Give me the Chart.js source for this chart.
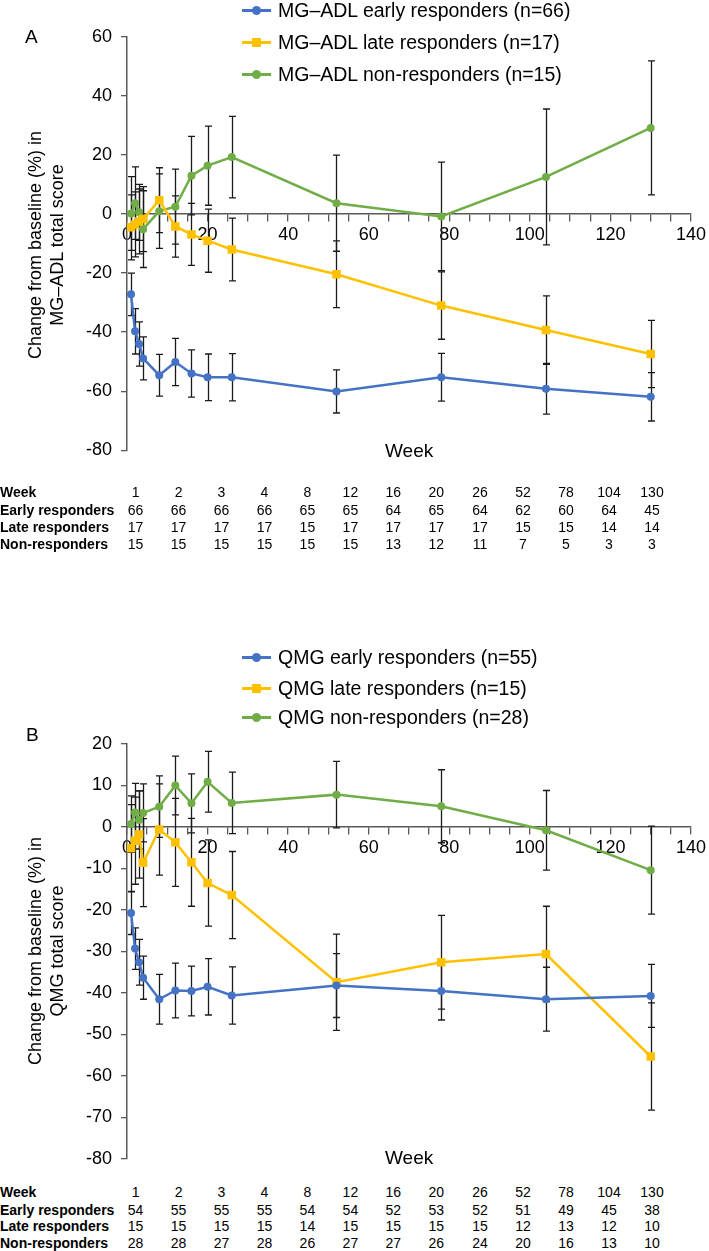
<!DOCTYPE html>
<html><head><meta charset="utf-8">
<script src="https://cdn.jsdelivr.net/npm/chart.js@4.4.1/dist/chart.umd.min.js"></script>
<style>
body{margin:0;width:709px;height:1251px;position:relative;background:#fff;overflow:hidden;font-family:"Liberation Sans",Arial,sans-serif;color:#000}
canvas{position:absolute;left:0}
.abs{position:absolute;white-space:nowrap}
.leg{position:absolute;left:242px;font-size:19.5px;line-height:22px;height:22px;width:440px}
.leg .ln{position:absolute;left:0;top:10px;width:29px;height:3px}
.leg .mk{position:absolute;left:10px;top:7px;width:9px;height:9px}
.leg .tx{position:absolute;left:36px;top:0}
.ytitle{position:absolute;width:320px;text-align:center;font-size:18px;line-height:22px;transform:rotate(-90deg);white-space:nowrap}
.cell{position:absolute;font-size:14px;line-height:16px;white-space:nowrap}
.rowlab{position:absolute;left:0;font-size:14px;line-height:16px;font-weight:bold;white-space:nowrap}
</style></head><body>
<canvas id="cA" width="709" height="470" style="top:0"></canvas>
<canvas id="cB" width="709" height="560" style="top:620px"></canvas>
<script>
// ---------- data ----------
const weeks = [1,2,3,4,8,12,16,20,26,52,78,104,130];

// Panel A: MG-ADL
const A_early = [-27.2,-39.7,-44.0,-48.9,-54.6,-50.1,-54.0,-55.3,-55.3,-60.1,-55.3,-59.2,-61.9];
const A_early_err = [7.2,7.7,7.5,7.3,7.1,8.0,8.0,7.9,8.0,7.3,8.1,8.6,8.2];
const A_late = [-4.5,-3.5,-2.5,-1.7,4.7,-4.2,-6.9,-9.0,-12.0,-20.4,-31.0,-39.3,-47.4];
const A_late_err = [11,11,11,11,11,10.4,10.5,10.7,10.6,11.3,11.4,11.6,11.4];
const A_non = [0.2,3.7,0.6,-5.1,1.0,2.5,13.0,16.4,19.3,3.7,-0.8,12.6,29.2];
const A_non_err = [12.5,12.3,9.5,13,12.6,12.7,13.3,13.4,13.8,16.3,18.4,23,22.7];

// Panel B: QMG
const B_early = [-20.7,-29.3,-32.6,-36.3,-41.5,-39.4,-39.5,-38.5,-40.6,-38.2,-39.5,-41.5,-40.7];
const B_early_err = [5.2,5,5.5,5.2,6,6.6,6,6.8,6.9,7.7,7.0,7.7,7.6];
const B_late = [-5.1,-3.3,-1.8,-8.6,-0.6,-3.7,-8.5,-13.5,-16.4,-37.4,-32.6,-30.6,-55.3];
const B_late_err = [10.5,10.5,10.5,10.6,11,10.6,10.6,10.4,10.5,11.6,11.3,11.5,12.9];
const B_non = [0.7,3.5,1.7,3.4,4.9,10.0,5.7,10.9,5.8,7.8,5.0,-0.8,-10.4];
const B_non_err = [6.8,7,7,7,7.4,7.1,7.1,7.3,7.4,8,8.8,9.6,10.6];

// Legends
const A_labels = ["MG–ADL early responders (n=66)","MG–ADL late responders (n=17)","MG–ADL non-responders (n=15)"];
const B_labels = ["QMG early responders (n=55)","QMG late responders (n=15)","QMG non-responders (n=28)"];

// Tick labels
const A_yticks = [-80,-60,-40,-20,0,20,40,60];
const B_yticks = [-80,-70,-60,-50,-40,-30,-20,-10,0,10,20];
const xTickLabels = [0,20,40,60,80,100,120,140];

// Tables (n at risk)
const tableWeeks = ["1","2","3","4","8","12","16","20","26","52","78","104","130"];
const tableRowLabels = ["Week","Early responders","Late responders","Non-responders"];
const A_n_early = [66,66,66,66,65,65,64,65,64,62,60,64,45];
const A_n_late  = [17,17,17,17,15,17,17,17,17,15,15,14,14];
const A_n_non   = [15,15,15,15,15,15,13,12,11,7,5,3,3];
const B_n_early = [54,55,55,55,54,54,52,53,52,51,49,45,38];
const B_n_late  = [15,15,15,15,14,15,15,15,15,12,13,12,10];
const B_n_non   = [28,28,27,28,26,27,27,26,24,20,16,13,10];

// ---------- styles ----------
const C_BLUE='#4472C4', C_YEL='#FFC000', C_GRN='#70AD47';
Chart.defaults.font.family = '"Liberation Sans",Arial,sans-serif';

const errorBars = {
  id:'errorBars',
  beforeDatasetsDraw(chart){
    const {ctx, scales:{x,y}} = chart;
    ctx.save(); ctx.strokeStyle='#1a1a1a'; ctx.lineWidth=1.3;
    chart.data.datasets.forEach(ds=>{
      ds.data.forEach((p,i)=>{
        const e = ds.errors[i];
        const px = Math.round(x.getPixelForValue(p.x))+0.5;
        const t = y.getPixelForValue(p.y+e), b = y.getPixelForValue(p.y-e);
        ctx.beginPath();
        ctx.moveTo(px,t); ctx.lineTo(px,b);
        ctx.moveTo(px-3.5,t); ctx.lineTo(px+3.5,t);
        ctx.moveTo(px-3.5,b); ctx.lineTo(px+3.5,b);
        ctx.stroke();
      });
    });
    ctx.restore();
  }
};

function pts(vals){ return weeks.map((w,i)=>({x:w,y:vals[i]})); }
function ds(label, vals, errs, color, style){
  return {label, data:pts(vals), errors:errs, borderColor:color, backgroundColor:color,
    borderWidth:2.5, pointStyle:style, pointRadius: style==='rect'?6:4, pointBorderWidth:0,
    pointHoverRadius:4, tension:0, fill:false};
}

function makeChart(id, sets, yMin, yMax, yTicks, pad){
  return new Chart(document.getElementById(id), {
    type:'line',
    data:{datasets:sets},
    plugins:[errorBars],
    options:{
      responsive:false, animation:false, devicePixelRatio:1,
      layout:{padding:pad},
      plugins:{legend:{display:false}, tooltip:{enabled:false}},
      scales:{
        x:{type:'linear', position:{y:0}, min:0, max:140,
          afterBuildTicks(s){ const t=[]; for(let v=0; v<=140; v+=5) t.push({value:v}); s.ticks=t; },
          ticks:{autoSkip:false, maxRotation:0, padding:3, color:'#000', font:{size:18},
            callback:v=> xTickLabels.includes(v) ? String(v) : ''},
          grid:{drawOnChartArea:false, drawTicks:true, tickLength:7, color:'#595959', lineWidth:1.3},
          border:{color:'#595959', width:1.5}},
        y:{type:'linear', min:yMin, max:yMax,
          afterBuildTicks(s){ s.ticks = yTicks.map(v=>({value:v})); },
          ticks:{padding:9, color:'#000', font:{size:18}, callback:v=>String(v)},
          grid:{drawOnChartArea:false, drawTicks:true, tickLength:6, color:'#595959', lineWidth:1.3},
          border:{color:'#595959', width:1.5},
          afterFit(s){ s.width = 127; }}
      }
    }
  });
}

makeChart('cA', [
  ds(A_labels[0], A_early, A_early_err, C_BLUE, 'circle'),
  ds(A_labels[1], A_late, A_late_err, C_YEL, 'rect'),
  ds(A_labels[2], A_non, A_non_err, C_GRN, 'circle')
], -80, 60, A_yticks, {top:37, right:16, bottom:17, left:0});

makeChart('cB', [
  ds(B_labels[0], B_early, B_early_err, C_BLUE, 'circle'),
  ds(B_labels[1], B_late, B_late_err, C_YEL, 'rect'),
  ds(B_labels[2], B_non, B_non_err, C_GRN, 'circle')
], -80, 20, B_yticks, {top:124, right:16, bottom:21, left:0});

// ---------- HTML text ----------
function addDiv(cls, txt, style){
  const d=document.createElement('div'); d.className=cls; d.textContent=txt;
  Object.assign(d.style, style); document.body.appendChild(d); return d;
}
function legend(labels, centers){
  const cols=[C_BLUE,C_YEL,C_GRN], shapes=['circle','rect','circle'];
  labels.forEach((t,i)=>{
    const d=document.createElement('div'); d.className='leg'; d.style.top=(centers[i]-11)+'px';
    const ln=document.createElement('div'); ln.className='ln'; ln.style.background=cols[i];
    const mk=document.createElement('div'); mk.className='mk'; mk.style.background=cols[i];
    if(shapes[i]==='circle') mk.style.borderRadius='50%';
    const tx=document.createElement('div'); tx.className='tx'; tx.textContent=t;
    d.appendChild(ln); d.appendChild(mk); d.appendChild(tx); document.body.appendChild(d);
  });
}
legend(A_labels,[10,42,74]);
legend(B_labels,[657,688,717]);

addDiv('abs','A',{left:'25px',top:'26px',fontSize:'19px'});
addDiv('abs','B',{left:'26px',top:'724px',fontSize:'19px'});
addDiv('abs','Week',{left:'385px',top:'440px',fontSize:'19px'});
addDiv('abs','Week',{left:'385px',top:'1147px',fontSize:'19px'});

function ytitle(l1,l2,cx,cy){
  const d=document.createElement('div'); d.className='ytitle';
  const a=document.createElement('div'); a.textContent=l1;
  const b=document.createElement('div'); b.textContent=l2; d.appendChild(a); d.appendChild(b);
  d.style.left=(cx-160)+'px'; d.style.top=(cy-22)+'px';
  document.body.appendChild(d);
}
ytitle('Change from baseline (%) in','MG–ADL total score',46,245);
ytitle('Change from baseline (%) in','QMG total score',46,951);

const colX=[135.6,178.6,221.5,264.5,307.4,350.4,393.3,436.3,480,523,566,609,652];
function table(rowsY, rows){
  tableRowLabels.forEach((lab,r)=>{
    addDiv('rowlab',lab,{top:(rowsY[r]-8)+'px'});
    rows[r].forEach((v,c)=>{
      addDiv('cell',String(v),{top:(rowsY[r]-8)+'px',left:(colX[c]-20)+'px',width:'40px',textAlign:'center'});
    });
  });
}
table([492,510,527,544],[tableWeeks,A_n_early,A_n_late,A_n_non]);
table([1192,1210,1226,1243],[tableWeeks,B_n_early,B_n_late,B_n_non]);
</script>
</body></html>
